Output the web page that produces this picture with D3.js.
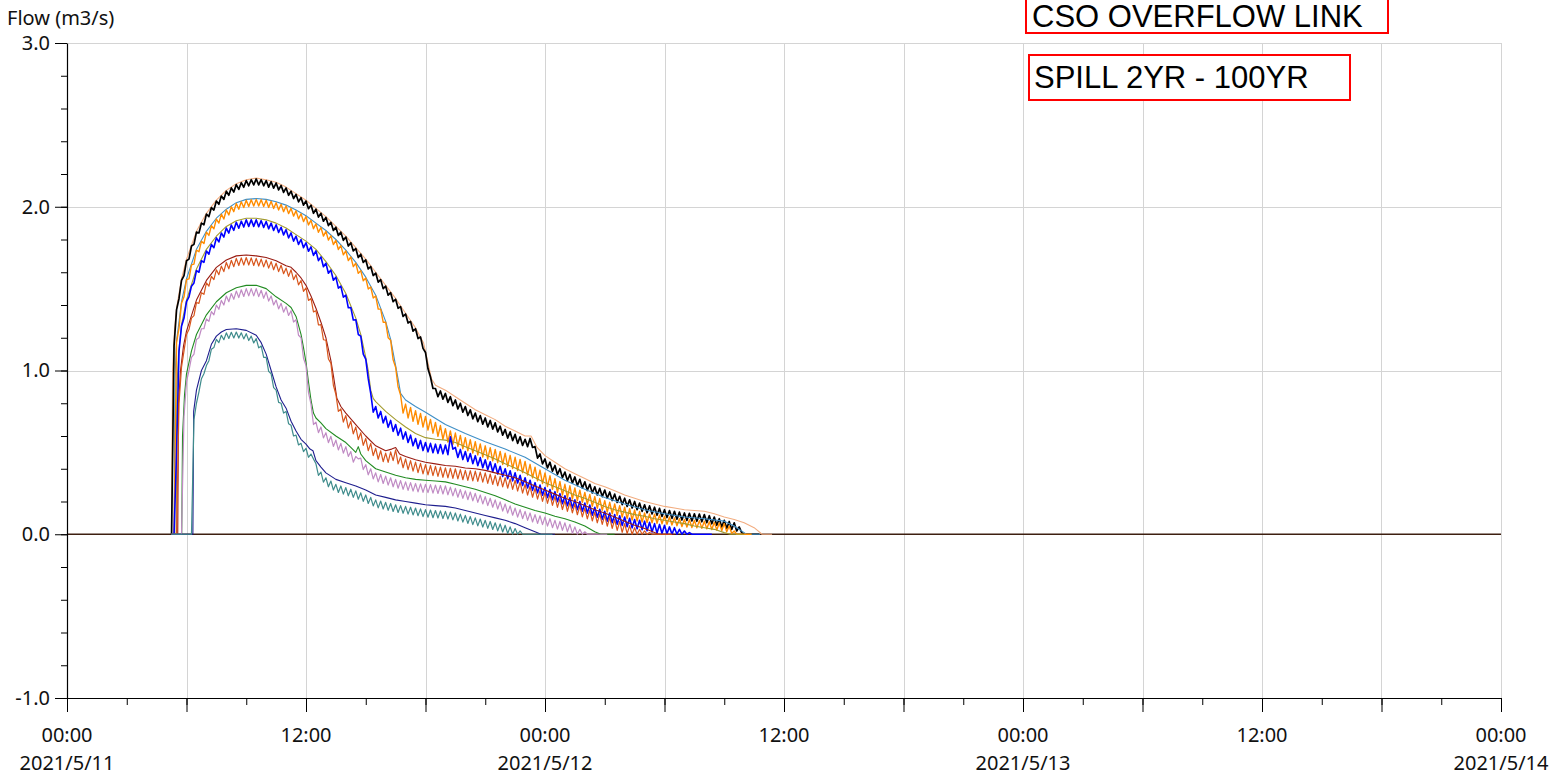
<!DOCTYPE html>
<html><head><meta charset="utf-8">
<script src="https://cdn.jsdelivr.net/npm/d3@7"></script>
<style>body{margin:0;background:#fff;}svg{display:block;}</style>
</head><body>
<svg id="chart" width="1567" height="776"></svg>
<script>
// ---------------- DATA ----------------
const startDate = new Date(2021, 4, 11, 0, 0);
const endDate = new Date(2021, 4, 14, 0, 0);
const yTickValues = [-1, 0, 1, 2, 3];
const yTickLabels = ["-1.0", "0.0", "1.0", "2.0", "3.0"];
const yTitle = "Flow (m3/s)";
const legendLines = ["CSO OVERFLOW LINK", "SPILL 2YR - 100YR"];

// smooth series: [hours since 2021/5/11 00:00, flow]
const peach = [[5.25,0],[5.3,1.0],[5.4,1.25],[5.5,1.38],[5.75,1.56],[6,1.68],[6.5,1.85],[7,1.96],[7.5,2.04],[8,2.10],[8.5,2.14],[9,2.165],[9.5,2.175],[10,2.165],[10.5,2.15],[11,2.12],[11.5,2.08],[12,2.04],[12.5,1.99],[13,1.94],[13.5,1.88],[14,1.82],[14.5,1.75],[15,1.68],[15.5,1.60],[16,1.52],[16.5,1.44],[17,1.35],[17.5,1.26],[17.9,1.17],[18.1,1.06],[18.3,0.95],[18.5,0.91],[19,0.88],[19.5,0.84],[20,0.80],[20.5,0.76],[21,0.73],[21.5,0.70],[22,0.66],[22.5,0.63],[23,0.60],[23.3,0.60],[23.6,0.53],[24,0.48],[24.5,0.44],[25,0.40],[25.5,0.37],[26,0.34],[26.5,0.31],[27,0.29],[27.5,0.265],[28,0.24],[28.5,0.22],[29,0.20],[29.5,0.185],[30,0.17],[30.5,0.16],[31,0.15],[31.5,0.145],[32,0.14],[32.5,0.125],[33,0.105],[33.5,0.09],[34,0.07],[34.5,0.04],[34.9,0],[35.4,0]];
const steel = [[5.25,0],[5.38,0],[5.42,0.95],[5.5,1.18],[5.75,1.42],[6,1.56],[6.5,1.74],[7,1.85],[7.5,1.93],[8,1.985],[8.5,2.025],[9,2.045],[9.5,2.05],[10,2.045],[10.5,2.03],[11,2.01],[11.5,1.98],[12,1.945],[12.5,1.90],[13,1.855],[13.5,1.80],[14,1.735],[14.5,1.66],[15,1.57],[15.5,1.46],[16,1.30],[16.25,1.19],[16.5,1.03],[16.65,0.93],[16.75,0.86],[17,0.82],[17.5,0.78],[18,0.745],[19,0.67],[20,0.615],[21,0.565],[22,0.52],[23,0.47],[24,0.40],[25,0.33],[26,0.275],[27,0.225],[28,0.185],[29,0.15],[30,0.125],[31,0.105],[32,0.095],[33,0.08],[33.5,0.05],[34,0.01],[34.1,0],[34.8,0]];
const olive = [[5.25,0],[5.48,0],[5.52,0.9],[5.6,1.1],[5.75,1.28],[6,1.43],[6.5,1.62],[7,1.74],[7.5,1.82],[8,1.88],[8.5,1.915],[9,1.93],[9.5,1.93],[10,1.92],[10.5,1.90],[11,1.87],[11.5,1.83],[12,1.79],[12.5,1.74],[13,1.665],[13.5,1.58],[14,1.47],[14.5,1.32],[14.75,1.22],[15,1.08],[15.125,1.0],[15.25,0.88],[15.375,0.83],[15.5,0.81],[16,0.75],[16.5,0.70],[17,0.655],[17.5,0.615],[18,0.59],[18.5,0.58],[19,0.575],[19.5,0.56],[20,0.535],[20.5,0.51],[21,0.485],[21.5,0.46],[22,0.43],[22.5,0.405],[23,0.375],[23.5,0.345],[24,0.315],[24.5,0.29],[25,0.265],[25.5,0.24],[26,0.22],[26.5,0.195],[27,0.17],[27.5,0.15],[28,0.135],[28.5,0.12],[29,0.11],[29.5,0.095],[30,0.085],[30.5,0.075],[31,0.065],[31.5,0.05],[32,0.04],[32.5,0.03],[33,0.01],[33.3,0],[34,0]];
const darkRed = [[5.25,0],[5.56,0],[5.6,0.8],[5.7,1.0],[5.85,1.15],[6,1.24],[6.5,1.43],[7,1.55],[7.5,1.63],[8,1.675],[8.5,1.70],[9,1.705],[9.5,1.70],[10,1.69],[10.5,1.67],[11,1.64],[11.25,1.63],[11.5,1.60],[11.75,1.565],[12,1.52],[12.25,1.455],[12.5,1.38],[12.75,1.295],[13,1.20],[13.25,1.06],[13.4,0.95],[13.55,0.83],[13.75,0.78],[14,0.74],[14.5,0.67],[15,0.60],[15.5,0.54],[16,0.51],[16.3,0.52],[16.5,0.53],[16.7,0.49],[17,0.475],[17.5,0.455],[18,0.44],[18.5,0.43],[19,0.42],[19.5,0.415],[20,0.405],[20.5,0.40],[21,0.39],[21.5,0.375],[22,0.36],[22.5,0.345],[23,0.32],[23.5,0.295],[24,0.27],[24.5,0.245],[25,0.22],[25.5,0.20],[26,0.175],[26.5,0.15],[27,0.13],[27.5,0.105],[28,0.08],[28.5,0.055],[29,0.035],[29.5,0.01],[29.7,0],[30.5,0]];
const green = [[5.25,0],[5.76,0],[5.8,0.6],[5.9,0.85],[6,0.98],[6.25,1.12],[6.5,1.22],[7,1.34],[7.5,1.42],[8,1.475],[8.5,1.505],[9,1.52],[9.5,1.52],[10,1.50],[10.5,1.45],[11,1.41],[11.25,1.385],[11.5,1.33],[11.75,1.22],[11.875,1.14],[12,1.05],[12.125,0.93],[12.25,0.82],[12.375,0.74],[12.5,0.71],[12.75,0.68],[13,0.645],[13.5,0.60],[14,0.56],[14.25,0.53],[14.5,0.50],[14.625,0.535],[14.75,0.49],[15,0.45],[15.5,0.40],[16,0.38],[16.5,0.36],[17,0.345],[17.5,0.335],[18,0.33],[18.5,0.325],[19,0.32],[19.5,0.305],[20,0.29],[20.5,0.275],[21,0.255],[21.5,0.235],[22,0.21],[22.5,0.185],[23,0.165],[23.5,0.145],[24,0.13],[24.5,0.11],[25,0.095],[25.5,0.075],[26,0.05],[26.5,0.015],[26.8,0],[27.5,0]];
const navy = [[5.25,0],[6.32,0],[6.36,0.75],[6.5,0.88],[6.75,1.0],[7,1.06],[7.25,1.16],[7.5,1.21],[7.75,1.235],[8,1.25],[8.5,1.255],[9,1.245],[9.5,1.215],[9.75,1.17],[10,1.10],[10.25,1.0],[10.5,0.90],[10.75,0.82],[11,0.77],[11.25,0.69],[11.5,0.63],[11.75,0.58],[12,0.55],[12.2,0.52],[12.35,0.51],[12.5,0.45],[12.75,0.41],[13,0.375],[13.5,0.335],[14,0.315],[14.5,0.295],[15,0.27],[15.5,0.24],[16,0.225],[16.5,0.21],[17,0.20],[17.5,0.19],[18,0.18],[18.5,0.175],[19,0.17],[19.5,0.16],[20,0.145],[20.5,0.13],[21,0.115],[21.5,0.10],[22,0.085],[22.5,0.065],[23,0.04],[23.5,0.015],[23.8,0],[24.5,0]];

// zigzag series: one value every 7.5 minutes, starting at 05:15 on 2021/5/11
const zigStartHour = 5.25;
const zigStepHour = 0.125;
const black = [0,1.15,1.37,1.44,1.55,1.58,1.67,1.68,1.76,1.77,
1.845,1.84,1.90,1.89,1.955,1.94,1.995,1.98,2.035,2.015,
2.065,2.045,2.095,2.07,2.115,2.09,2.135,2.106,2.147,2.119,
2.16,2.128,2.165,2.133,2.17,2.133,2.165,2.128,2.16,2.12,
2.153,2.114,2.145,2.103,2.13,2.088,2.115,2.07,2.095,2.05,
2.075,2.03,2.055,2.01,2.035,1.988,2.01,1.96,1.985,1.937,
1.96,1.912,1.935,1.885,1.905,1.855,1.875,1.825,1.845,1.795,
1.815,1.76,1.78,1.73,1.745,1.69,1.71,1.66,1.675,1.62,
1.635,1.58,1.595,1.54,1.555,1.50,1.515,1.46,1.475,1.42,
1.435,1.38,1.39,1.33,1.345,1.29,1.30,1.24,1.255,1.195,
1.205,1.135,1.11,1.01,0.96,0.89,0.89,0.84,0.875,0.825,
0.86,0.805,0.84,0.785,0.82,0.765,0.80,0.745,0.78,0.725,
0.76,0.705,0.74,0.687,0.725,0.672,0.71,0.655,0.695,0.642,
0.68,0.625,0.66,0.605,0.64,0.587,0.625,0.572,0.61,0.555,
0.595,0.542,0.58,0.535,0.585,0.53,0.535,0.465,0.49,0.43,
0.46,0.405,0.44,0.385,0.42,0.365,0.40,0.345,0.38,0.327,
0.365,0.312,0.35,0.297,0.335,0.282,0.32,0.267,0.305,0.252,
0.29,0.24,0.28,0.23,0.27,0.22,0.258,0.206,0.245,0.194,
0.232,0.181,0.22,0.17,0.21,0.16,0.20,0.15,0.19,0.14,
0.18,0.131,0.173,0.124,0.165,0.116,0.158,0.109,0.15,0.102,
0.145,0.097,0.14,0.092,0.135,0.087,0.13,0.084,0.128,0.081,
0.125,0.079,0.123,0.076,0.12,0.071,0.113,0.064,0.105,0.055,
0.095,0.045,0.085,0.036,0.078,0.029,0.07,0.02,0.045,0.01,
0,0,0,0,0,0,0];
const orange = [0,0,1.17,1.26,1.41,1.45,1.555,1.56,1.645,1.65,
1.735,1.725,1.79,1.775,1.845,1.825,1.885,1.865,1.925,1.90,
1.955,1.925,1.98,1.95,2.0,1.97,2.02,1.985,2.03,1.995,
2.04,2.001,2.043,2.004,2.045,2.004,2.043,2.001,2.04,1.996,
2.033,1.989,2.025,1.98,2.015,1.97,2.005,1.958,1.99,1.943,
1.975,1.926,1.957,1.909,1.94,1.889,1.917,1.866,1.895,1.844,
1.873,1.821,1.85,1.796,1.823,1.769,1.795,1.739,1.763,1.706,
1.73,1.671,1.693,1.634,1.655,1.593,1.61,1.548,1.565,1.498,
1.51,1.443,1.455,1.375,1.375,1.295,1.295,1.20,1.185,1.065,
1.02,0.90,0.85,0.74,0.795,0.71,0.775,0.69,0.755,0.671,
0.738,0.654,0.72,0.636,0.701,0.617,0.683,0.598,0.664,0.58,
0.645,0.563,0.631,0.549,0.618,0.536,0.604,0.522,0.59,0.509,
0.577,0.496,0.565,0.484,0.552,0.471,0.54,0.459,0.529,0.448,
0.518,0.437,0.506,0.426,0.495,0.414,0.482,0.401,0.47,0.389,
0.457,0.376,0.445,0.361,0.427,0.344,0.41,0.326,0.392,0.309,
0.375,0.291,0.357,0.274,0.34,0.256,0.322,0.239,0.305,0.223,
0.296,0.215,0.283,0.205,0.269,0.195,0.255,0.184,0.243,0.171,
0.23,0.159,0.218,0.146,0.205,0.135,0.195,0.125,0.185,0.115,
0.175,0.105,0.165,0.096,0.156,0.087,0.148,0.08,0.139,0.075,
0.13,0.072,0.124,0.07,0.123,0.067,0.116,0.064,0.11,0.061,
0.105,0.057,0.10,0.052,0.095,0.047,0.09,0.044,0.088,0.041,
0.085,0.039,0.083,0.036,0.08,0.033,0.076,0.029,0.073,0.026,
0.069,0.022,0.065,0.015,0.05,0.005,0.02,0,0,0,0,0,0,0];
const blue = [0,0,0.5,1.12,1.27,1.32,1.42,1.45,1.515,1.535,
1.61,1.60,1.67,1.66,1.73,1.71,1.77,1.75,1.81,1.785,
1.84,1.815,1.87,1.839,1.888,1.856,1.905,1.869,1.912,1.876,
1.92,1.88,1.92,1.88,1.92,1.878,1.915,1.873,1.91,1.865,
1.90,1.855,1.89,1.843,1.875,1.828,1.86,1.81,1.84,1.79,
1.82,1.77,1.80,1.75,1.78,1.728,1.755,1.703,1.73,1.671,
1.693,1.634,1.655,1.594,1.613,1.551,1.57,1.503,1.515,1.448,
1.46,1.383,1.385,1.308,1.31,1.22,1.21,1.10,1.07,0.95,
0.86,0.745,0.78,0.71,0.75,0.68,0.72,0.653,0.695,0.628,
0.67,0.604,0.648,0.581,0.625,0.56,0.605,0.54,0.585,0.524,
0.573,0.511,0.56,0.503,0.555,0.498,0.55,0.494,0.548,0.491,
0.545,0.486,0.595,0.52,0.53,0.469,0.518,0.456,0.505,0.444,
0.493,0.431,0.48,0.419,0.468,0.406,0.455,0.394,0.443,0.381,
0.43,0.368,0.415,0.353,0.40,0.339,0.388,0.326,0.375,0.313,
0.36,0.298,0.345,0.283,0.33,0.268,0.315,0.253,0.30,0.238,
0.285,0.224,0.273,0.211,0.26,0.199,0.248,0.186,0.235,0.174,
0.223,0.161,0.21,0.15,0.20,0.14,0.19,0.129,0.178,0.116,
0.165,0.104,0.153,0.091,0.14,0.08,0.13,0.07,0.12,0.061,
0.113,0.054,0.105,0.046,0.098,0.039,0.09,0.033,0.085,0.028,
0.08,0.021,0.073,0.014,0.065,0.008,0.06,0.005,0.055,0.003,
0.045,0,0.04,0,0.03,0,0.02,0,0.01,0,0,0,0,0,0,0,0,0];
const orangeRed = [0,0,0,0.80,1.02,1.12,1.22,1.25,1.32,1.335,
1.415,1.41,1.475,1.465,1.535,1.515,1.575,1.555,1.615,1.585,
1.637,1.604,1.66,1.621,1.673,1.634,1.685,1.641,1.688,1.644,
1.69,1.644,1.688,1.641,1.685,1.638,1.68,1.633,1.675,1.625,
1.665,1.615,1.655,1.604,1.643,1.591,1.625,1.575,1.615,1.555,
1.585,1.523,1.55,1.483,1.505,1.428,1.44,1.358,1.365,1.278,
1.28,1.188,1.185,1.07,1.045,0.91,0.855,0.75,0.765,0.685,
0.725,0.648,0.69,0.613,0.655,0.578,0.62,0.543,0.585,0.51,
0.555,0.48,0.525,0.458,0.51,0.443,0.495,0.439,0.503,0.45,
0.515,0.43,0.472,0.406,0.46,0.395,0.45,0.385,0.44,0.376,
0.433,0.369,0.425,0.363,0.42,0.358,0.415,0.353,0.41,0.348,
0.405,0.344,0.403,0.341,0.40,0.338,0.395,0.333,0.39,0.329,
0.388,0.326,0.385,0.323,0.38,0.318,0.375,0.311,0.368,0.304,
0.36,0.296,0.353,0.289,0.345,0.281,0.338,0.274,0.33,0.264,
0.318,0.251,0.305,0.239,0.293,0.226,0.28,0.214,0.268,0.201,
0.255,0.189,0.243,0.176,0.23,0.164,0.218,0.151,0.205,0.14,
0.195,0.13,0.185,0.119,0.173,0.106,0.16,0.094,0.148,0.081,
0.135,0.07,0.125,0.06,0.115,0.049,0.103,0.036,0.09,0.024,
0.078,0.011,0.065,0.004,0.053,0,0.04,0,0.03,0,
0.02,0,0.01,0,0,0,0,0,0,0,0,0];
const pink = [0,0,0,0,0,0.72,0.93,1.0,1.08,1.10,
1.19,1.20,1.255,1.255,1.315,1.30,1.36,1.34,1.40,1.374,
1.428,1.40,1.455,1.42,1.47,1.435,1.485,1.445,1.493,1.452,
1.50,1.456,1.50,1.456,1.50,1.451,1.49,1.441,1.48,1.424,
1.455,1.40,1.43,1.376,1.41,1.356,1.39,1.336,1.365,1.296,
1.31,1.215,1.20,1.075,1.03,0.865,0.795,0.67,0.685,0.62,
0.655,0.588,0.62,0.559,0.598,0.536,0.575,0.515,0.555,0.495,
0.535,0.475,0.505,0.44,0.475,0.46,0.465,0.395,0.425,0.363,
0.40,0.338,0.375,0.32,0.365,0.31,0.355,0.30,0.345,0.29,
0.335,0.281,0.328,0.274,0.32,0.268,0.315,0.263,0.31,0.259,
0.308,0.256,0.305,0.254,0.303,0.251,0.30,0.249,0.298,0.246,
0.295,0.241,0.288,0.234,0.28,0.226,0.273,0.219,0.265,0.211,
0.258,0.204,0.25,0.195,0.24,0.185,0.23,0.175,0.22,0.165,
0.21,0.154,0.198,0.141,0.185,0.129,0.173,0.116,0.16,0.105,
0.15,0.095,0.14,0.085,0.13,0.075,0.12,0.066,0.113,0.059,
0.105,0.05,0.095,0.04,0.085,0.031,0.078,0.024,0.07,0.015,
0.06,0.005,0.045,0,0.03,0,0.015,0,0,0,0,0,0,0,0,0];
const teal = [0,0,0,0,0,0,0,0,0,0.70,
0.80,0.87,0.95,0.98,1.03,1.06,1.13,1.14,1.19,1.17,
1.215,1.188,1.23,1.196,1.233,1.199,1.235,1.198,1.23,1.193,
1.225,1.183,1.21,1.168,1.195,1.138,1.15,1.08,1.08,0.995,
0.98,0.895,0.88,0.805,0.80,0.74,0.75,0.675,0.665,0.60,
0.605,0.545,0.555,0.505,0.525,0.47,0.49,0.46,0.43,0.36,
0.38,0.318,0.345,0.29,0.325,0.27,0.305,0.255,0.295,0.245,
0.285,0.235,0.275,0.225,0.265,0.214,0.253,0.201,0.24,0.188,
0.225,0.173,0.21,0.161,0.203,0.154,0.195,0.146,0.188,0.139,
0.18,0.133,0.175,0.128,0.17,0.123,0.165,0.118,0.16,0.113,
0.155,0.108,0.15,0.104,0.148,0.101,0.145,0.099,0.143,0.096,
0.14,0.093,0.135,0.088,0.13,0.081,0.123,0.074,0.115,0.066,
0.108,0.059,0.10,0.051,0.093,0.044,0.085,0.036,0.078,0.029,
0.07,0.021,0.063,0.014,0.055,0.005,0.045,0,0.035,0,
0.02,0,0,0,0,0,0,0,0,0,0,0,0,0];
const zeroLine = [[0,0],[72,0]];

// ---------------- CHART ----------------
const svg = d3.select("#chart");
const W = 1567, H = 776;
const plot = {left: 67, right: 1501, top: 43, bottom: 698};
const axisFont = "'Noto Sans', 'Open Sans', sans-serif";

const x = d3.scaleTime().domain([startDate, endDate]).range([plot.left, plot.right]);
const y = d3.scaleLinear().domain([-1, 3]).range([plot.bottom, plot.top]);
const hourToDate = h => new Date(startDate.getTime() + h * 3600000);

svg.append("rect").attr("width", W).attr("height", H).attr("fill", "#fff");

// grid
const grid = svg.append("g").attr("stroke", "#d4d4d4").attr("stroke-width", 1).attr("shape-rendering", "crispEdges");
grid.selectAll("line.v").data(d3.timeHour.every(6).range(hourToDate(6), hourToDate(72.01)))
  .join("line").attr("x1", d => Math.round(x(d)) + 0.5).attr("x2", d => Math.round(x(d)) + 0.5)
  .attr("y1", plot.top).attr("y2", plot.bottom);
grid.selectAll("line.h").data(yTickValues.filter(v => v > -1))
  .join("line").attr("x1", plot.left).attr("x2", plot.right)
  .attr("y1", d => Math.round(y(d)) + 0.5).attr("y2", d => Math.round(y(d)) + 0.5);

// series
const line = d3.line().x(d => x(hourToDate(d[0]))).y(d => y(d[1]));
const zig = vals => vals.map((v, k) => [zigStartHour + k * zigStepHour, v]);

const drawList = [
  {pts: zeroLine, color: "#3d1f10", w: 1.6},
  {pts: peach, color: "#f2ad80", w: 1.1},
  {pts: zig(black), color: "#000000", w: 1.7},
  {pts: steel, color: "#3f8fc6", w: 1.1},
  {pts: zig(orange), color: "#ff8c00", w: 1.4},
  {pts: olive, color: "#a39b2e", w: 1.1},
  {pts: zig(blue), color: "#0000ff", w: 1.6},
  {pts: darkRed, color: "#9a1c12", w: 1.1},
  {pts: zig(orangeRed), color: "#d8561c", w: 1.2},
  {pts: green, color: "#228b22", w: 1.1},
  {pts: zig(pink), color: "#c08bc4", w: 1.2},
  {pts: navy, color: "#1e1e8e", w: 1.1},
  {pts: zig(teal), color: "#3f8c8c", w: 1.2}
];
const gSeries = svg.append("g").attr("fill", "none").attr("stroke-linejoin", "round");
drawList.forEach(s => {
  gSeries.append("path").attr("d", line(s.pts)).attr("stroke", s.color).attr("stroke-width", s.w);
});

// y axis
const yAxis = svg.append("g").attr("transform", `translate(${plot.left},0)`)
  .call(d3.axisLeft(y).tickValues(yTickValues).tickSize(12).tickSizeOuter(0).tickPadding(5)
    .tickFormat((d, i) => yTickLabels[i]));
svg.append("g").attr("transform", `translate(${plot.left},0)`)
  .call(d3.axisLeft(y).tickValues(d3.range(-1, 3.0001, 0.2)).tickSize(6).tickSizeOuter(0).tickFormat(""))
  .select(".domain").remove();
yAxis.selectAll("text").attr("font-family", axisFont).attr("font-size", 20).attr("fill", "#111");

// x axis
svg.append("g").attr("transform", `translate(0,${plot.bottom})`)
  .call(d3.axisBottom(x).ticks(d3.timeHour.every(6)).tickSize(14).tickSizeOuter(0).tickFormat(""));
svg.append("g").attr("transform", `translate(0,${plot.bottom})`)
  .call(d3.axisBottom(x).ticks(d3.timeHour.every(3)).tickSize(7).tickSizeOuter(0).tickFormat(""))
  .select(".domain").remove();
svg.selectAll(".domain").attr("stroke", "#000").attr("stroke-width", 1.2);
svg.selectAll(".tick line").attr("stroke", "#000");

const fmtTime = d3.timeFormat("%H:%M");
const fmtDate = d3.timeFormat("%Y/%-m/%-d");
const labelTicks = d3.timeHour.every(12).range(startDate, hourToDate(72.01));
const xl = svg.append("g").attr("font-family", axisFont).attr("font-size", 20).attr("fill", "#111").attr("text-anchor", "middle");
xl.selectAll("text.t").data(labelTicks).join("text")
  .attr("x", d => x(d)).attr("y", 742).text(d => fmtTime(d));
xl.selectAll("text.d").data(labelTicks.filter(d => d.getHours() === 0)).join("text")
  .attr("x", d => x(d)).attr("y", 770).text(d => fmtDate(d));

// y title
svg.append("text").attr("x", 7).attr("y", 25).attr("font-family", axisFont).attr("font-size", 20)
  .attr("fill", "#111").text(yTitle);

// legend boxes
const boxes = [
  {x: 1026, y: -4, w: 362, h: 37, tx: 1032, ty: 27},
  {x: 1029, y: 55, w: 321, h: 45, tx: 1034, ty: 88}
];
boxes.forEach((b, i) => {
  svg.append("rect").attr("x", b.x).attr("y", b.y).attr("width", b.w).attr("height", b.h)
    .attr("fill", "#fff").attr("stroke", "#ff0000").attr("stroke-width", 2);
  svg.append("text").attr("x", b.tx).attr("y", b.ty).attr("font-family", "'Liberation Sans', Arial, sans-serif")
    .attr("font-size", 31).attr("fill", "#000").text(legendLines[i]);
});
</script>
</body></html>
